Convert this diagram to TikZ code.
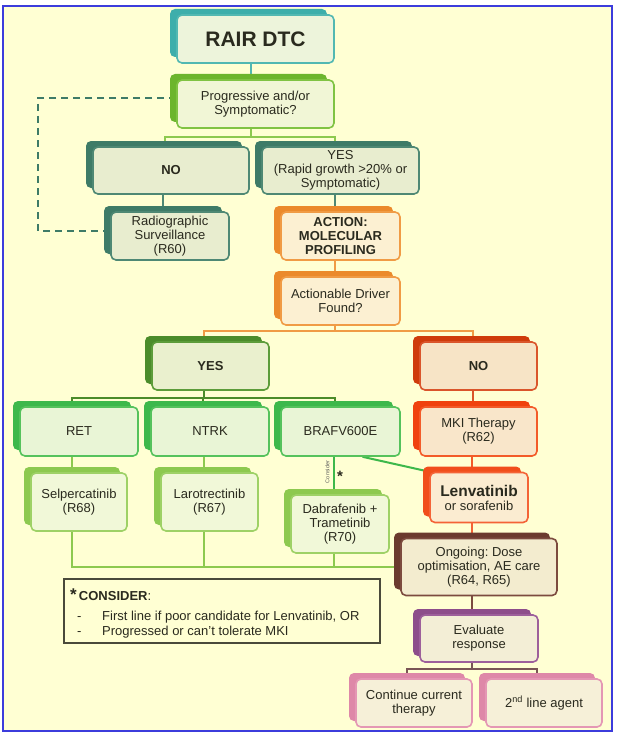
\documentclass[tikz,border=0pt]{standalone}
\usepackage{fontspec}
\setmainfont{Liberation Sans}
\frenchspacing
\usetikzlibrary{shadows,calc}
\definecolor{bgY}{HTML}{FFFFD3}
\definecolor{frameB}{HTML}{3C3CDC}
\definecolor{txt}{HTML}{2A2A1E}
\definecolor{tealB}{HTML}{3DAEAB}\definecolor{tealD}{HTML}{52B8B2}\definecolor{tealF}{HTML}{EDF4DB}
\definecolor{pgB}{HTML}{6CB52D}\definecolor{pgD}{HTML}{80C343}\definecolor{pgF}{HTML}{F1F6D6}
\definecolor{dtB}{HTML}{3E7B67}\definecolor{dtD}{HTML}{4E8874}\definecolor{dtF}{HTML}{E8EDCF}
\definecolor{orB}{HTML}{EB8A2B}\definecolor{orD}{HTML}{F09B45}\definecolor{orF}{HTML}{FCF0D2}
\definecolor{dgB}{HTML}{4B8C2A}\definecolor{dgD}{HTML}{5C9C3A}\definecolor{dgF}{HTML}{EAF0CE}
\definecolor{rdB}{HTML}{CF3B0A}\definecolor{rdD}{HTML}{DA552B}\definecolor{rdF}{HTML}{F7E4C6}
\definecolor{mgB}{HTML}{3DB84B}\definecolor{mgD}{HTML}{55C25C}\definecolor{mgF}{HTML}{E9F5D6}
\definecolor{lgB}{HTML}{8DC94F}\definecolor{lgD}{HTML}{9ED166}\definecolor{lgF}{HTML}{F1F8D8}
\definecolor{mkB}{HTML}{F0420E}\definecolor{mkD}{HTML}{F35B29}\definecolor{mkF}{HTML}{F9E6CA}
\definecolor{lvB}{HTML}{F14E1B}\definecolor{lvD}{HTML}{F46337}\definecolor{lvF}{HTML}{FBECD1}
\definecolor{brB}{HTML}{6B3A2E}\definecolor{brD}{HTML}{7C4B3F}\definecolor{brF}{HTML}{F3ECCF}
\definecolor{puB}{HTML}{8D4D8B}\definecolor{puD}{HTML}{9D5F9B}\definecolor{puF}{HTML}{F3EED6}
\definecolor{pkB}{HTML}{DE88A8}\definecolor{pkD}{HTML}{E497B4}\definecolor{pkF}{HTML}{F6F0D8}
\definecolor{evL}{HTML}{7A5555}
\definecolor{consD}{HTML}{4A4A3A}
\pgfdeclarelayer{bg}
\pgfdeclarelayer{background}
\pgfsetlayers{bg,background,main}
\newcommand\rtxt{\fontsize{13}{14}\selectfont}
\tikzset{
  pbox/.style n args={3}{draw=#2, fill=#3, line width=1.6pt, rounded corners=5pt,
     drop shadow={shadow xshift=-7pt,shadow yshift=6pt,opacity=1,fill=#1},
     align=center, inner sep=1pt, font=\rtxt, text=txt},
  conn/.style={line width=2pt},
  dashln/.style={line width=2pt, dtB, dash pattern=on 7pt off 5pt},
  plain/.style={font=\rtxt, text=txt, inner sep=0pt},
}
\begin{document}
\begin{tikzpicture}[x=1pt,y=-1pt]
\useasboundingbox (0,0) rectangle (616,733);
\begin{pgfonlayer}{bg}
\fill[white] (0,0) rectangle (616,733);
\fill[bgY] (3,6) rectangle (612,731);
\draw[frameB, line width=2pt] (3,6) rectangle (612,731);
\end{pgfonlayer}

% boxes
\node[pbox={tealB}{tealD}{tealF}, minimum width=157pt, minimum height=48pt, font=\fontsize{21}{24}\selectfont\bfseries] (rair) at (255.5,39) {RAIR DTC};
\node[pbox={pgB}{pgD}{pgF}, minimum width=157pt, minimum height=48pt] (prog) at (255.5,104) {Progressive and/or\\Symptomatic?};
\node[pbox={dtB}{dtD}{dtF}, minimum width=156pt, minimum height=47pt, font=\rtxt\bfseries] (no1) at (171,170.5) {NO};
\node[pbox={dtB}{dtD}{dtF}, minimum width=157pt, minimum height=47pt] (yes1) at (340.5,170.5) {YES\\(Rapid growth >20\% or\\Symptomatic)};
\node[pbox={dtB}{dtD}{dtF}, minimum width=118pt, minimum height=48pt] (radio) at (170,236) {Radiographic\\Surveillance\\(R60)};
\node[pbox={orB}{orD}{orF}, minimum width=119pt, minimum height=48pt, font=\rtxt\bfseries] (action) at (340.5,236) {ACTION:\\MOLECULAR\\PROFILING};
\node[pbox={orB}{orD}{orF}, minimum width=119pt, minimum height=48pt] (actionable) at (340.5,301) {Actionable Driver\\Found?};
\node[pbox={dgB}{dgD}{dgF}, minimum width=117pt, minimum height=48pt, font=\rtxt\bfseries] (yes2) at (210.5,366) {YES};
\node[pbox={rdB}{rdD}{rdF}, minimum width=117pt, minimum height=48pt, font=\rtxt\bfseries] (no2) at (478.5,366) {NO};
\node[pbox={mgB}{mgD}{mgF}, minimum width=118pt, minimum height=49pt] (ret) at (79,431.5) {RET};
\node[pbox={mgB}{mgD}{mgF}, minimum width=118pt, minimum height=49pt] (ntrk) at (210,431.5) {NTRK};
\node[pbox={mgB}{mgD}{mgF}, minimum width=119pt, minimum height=49pt] (braf) at (340.5,431.5) {BRAFV600E};
\node[pbox={mkB}{mkD}{mkF}, minimum width=117pt, minimum height=49pt] (mki) at (478.5,431.5) {MKI Therapy\\(R62)};
\node[pbox={lgB}{lgD}{lgF}, minimum width=96pt, minimum height=58pt] (selp) at (79,502) {Selpercatinib\\(R68)};
\node[pbox={lgB}{lgD}{lgF}, minimum width=97pt, minimum height=58pt] (laro) at (209.5,502) {Larotrectinib\\(R67)};
\node[pbox={lgB}{lgD}{lgF}, minimum width=98pt, minimum height=58pt] (dabra) at (340,524) {Dabrafenib +\\Trametinib\\(R70)};
\node[pbox={lvB}{lvD}{lvF}, minimum width=98pt, minimum height=50pt] (lenva) at (479,497.5) {{\fontsize{15.5}{17}\selectfont\bfseries Lenvatinib}\\or sorafenib};
\node[pbox={brB}{brD}{brF}, minimum width=156pt, minimum height=57pt] (ongoing) at (479,567) {Ongoing: Dose\\optimisation, AE care\\(R64, R65)};
\node[pbox={puB}{puD}{puF}, minimum width=118pt, minimum height=47pt] (eval) at (479,638.5) {Evaluate\\response};
\node[pbox={pkB}{pkD}{pkF}, minimum width=116pt, minimum height=48pt] (cont) at (414,703) {Continue current\\therapy};
\node[pbox={pkB}{pkD}{pkF}, minimum width=116pt, minimum height=48pt] (second) at (544,703) {2\textsuperscript{nd} line agent};

% consider box
\node[draw=consD, fill=bgY, line width=1.3pt, minimum width=316pt, minimum height=64pt, inner sep=0pt] (cons) at (222,611) {};
\node[plain, anchor=base west] (constitle) at (70,600) {{\fontsize{17}{17}\selectfont\bfseries *}\,{\bfseries CONSIDER}:};
\node[plain, anchor=base west] (dash1) at (77,620) {-};
\node[plain, anchor=base west] (line1) at (102,620) {First line if poor candidate for Lenvatinib, OR};
\node[plain, anchor=base west] (dash2) at (77,635) {-};
\node[plain, anchor=base west] (line2) at (102,635) {Progressed or can’t tolerate MKI};

% small labels
\node[plain, rotate=90, font=\fontsize{5.5}{6}\selectfont, text=black!65] (consnote) at (327.5,472) {Consider};
\node[plain, font=\fontsize{15}{15}\selectfont\bfseries] (star) at (340,476) {*};

% connectors
\begin{pgfonlayer}{background}
\draw[conn, tealD] ([xshift=-5pt]rair.south) -- ([xshift=-5pt]prog.north);
\draw[conn, lgB] ([xshift=-5pt]prog.south) -- ++(0,8) coordinate (s1);
\draw[conn, lgB] ([xshift=-6pt]no1.north) |- (s1) -| ([xshift=-6pt]yes1.north);
\draw[conn, dtD] ([xshift=-7pt]radio.north) -- ([xshift=-7pt]radio.north |- no1.south);
\draw[conn, dtD] ([xshift=-6pt]yes1.south) -- ([xshift=-6pt]action.north);
\draw[conn, orD] ([xshift=-6pt]action.south) -- ([xshift=-6pt]actionable.north);
\draw[conn, orD] ([xshift=-6pt]actionable.south) -- ++(0,5) coordinate (s2);
\draw[conn, orD] ([xshift=-7pt]yes2.north) |- (s2) -| ([xshift=-6pt]no2.north);
\draw[conn, dgB] ([xshift=-7pt]yes2.south) -- ++(0,7) coordinate (s3);
\draw[conn, dgB] ([xshift=-7pt]ret.north) |- (s3) -| ([xshift=-6pt]braf.north);
\draw[conn, dgB] ([xshift=-7pt]ntrk.north) -- ([xshift=-7pt]ntrk.north |- s3);
\draw[conn, rdD] ([xshift=-6pt]mki.north) -- ([xshift=-6pt]mki.north |- no2.south);
\draw[conn, lgB] ([xshift=-7pt]selp.north) -- ([xshift=-7pt]selp.north |- ret.south);
\draw[conn, lgB] ([xshift=-6pt]laro.north) -- ([xshift=-6pt]laro.north |- ntrk.south);
\draw[conn, mgB] ([xshift=-6pt]dabra.north) -- ([xshift=-6pt]dabra.north |- braf.south);
\draw[conn, mgB] ([xshift=22pt]braf.south) -- (lenva.north west);
\draw[conn, mkD] ([xshift=-7pt]lenva.north) -- ([xshift=-7pt]lenva.north |- mki.south);
\draw[conn, lvD] ([xshift=-7pt]lenva.south) -- ([xshift=-7pt]ongoing.north);
\draw[conn, lgB] ([xshift=-7pt]selp.south) |- (ongoing.west);
\draw[conn, lgB] ([xshift=-6pt]laro.south) -- ([xshift=-6pt]laro.south |- ongoing.west);
\draw[conn, lgB] ([xshift=-6pt]dabra.south) -- ([xshift=-6pt]dabra.south |- ongoing.west);
\draw[conn, brD] ([xshift=-7pt]ongoing.south) -- ([xshift=-7pt]eval.north);
\draw[conn, evL] ([xshift=-7pt]eval.south) -- ++(0,6) coordinate (s4);
\draw[conn, evL] ([xshift=-7pt]cont.north) |- (s4) -| ([xshift=-7pt]second.north);
\draw[dashln] ([yshift=6pt]prog.west) -- ++(-138,0) |- ([yshift=5pt]radio.west);
\end{pgfonlayer}
\end{tikzpicture}
\end{document}
